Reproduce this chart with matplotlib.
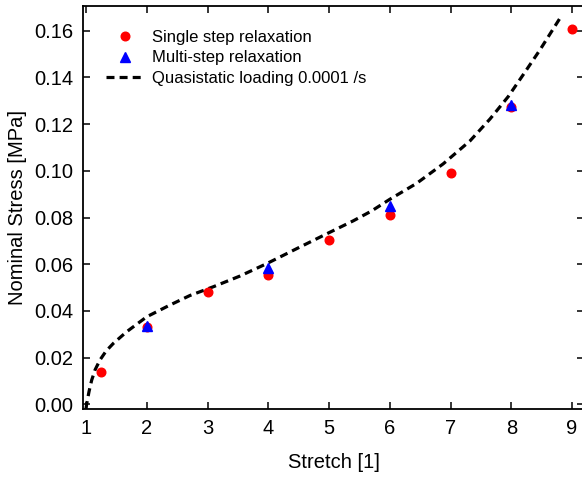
import matplotlib
matplotlib.use("Agg")
import matplotlib.pyplot as plt

plt.rcParams['font.family'] = ['Liberation Sans', 'DejaVu Sans']

# Single step relaxation
single_x = [1.25, 2, 3, 4, 5, 6, 7, 8, 9]
single_y = [0.0140, 0.0332, 0.0480, 0.0554, 0.0704, 0.0811, 0.0989, 0.1272, 0.1607]

# Multi-step relaxation
multi_x = [2, 4, 6, 8]
multi_y = [0.0335, 0.0585, 0.0851, 0.1282]

# Quasistatic loading curve
quasi_x = [1.0, 1.01, 1.05, 1.094, 1.15, 1.23, 1.33, 1.45, 1.67, 2.0, 2.38, 2.71,
           3.10, 3.53, 3.97, 4.47, 4.96, 5.40, 5.70, 6.0, 6.44, 6.88, 7.32, 7.65,
           7.95, 8.20, 8.47, 8.80]
quasi_y = [-0.002, 0.0, 0.0055, 0.0104, 0.0148, 0.0190, 0.0228, 0.0261, 0.0311, 0.0375,
           0.0425, 0.0466, 0.0504, 0.0549, 0.0602, 0.0667, 0.0730, 0.0786, 0.0828,
           0.0878, 0.0946, 0.1030, 0.1128, 0.1222, 0.1318, 0.1413, 0.1517, 0.1653]

fig = plt.figure(figsize=(5.82, 4.79), dpi=100)
ax = fig.add_axes([83 / 582, 1 - 409 / 479, 501 / 582, 403 / 479])

ax.plot(quasi_x, quasi_y, '--', color='black', lw=2.3, dashes=(2.5, 1.6),
        label='Quasistatic loading 0.0001 /s', zorder=2)
ax.plot(single_x, single_y, 'o', color='#ff0000', ms=6.2, ls='none',
        label='Single step relaxation', zorder=3)
ax.plot(multi_x, multi_y, '^', color='#0000ff', ms=6.5, ls='none',
        label='Multi-step relaxation', zorder=4)

ax.set_xlim(0.9506, 9.1975)
ax.set_ylim(-0.002, 0.1706)
ax.set_xticks(range(1, 10))
ax.set_yticks([0.00, 0.02, 0.04, 0.06, 0.08, 0.10, 0.12, 0.14, 0.16])
ax.set_yticklabels([f"{v:.2f}" for v in ax.get_yticks()])
ax.tick_params(direction='in', length=5, width=1.1, top=True, right=True,
               labelsize=14.5, pad=7)
for s in ax.spines.values():
    s.set_linewidth(1.3)

ax.set_xlabel('Stretch [1]', fontsize=14.5, labelpad=11)
ax.set_ylabel('Nominal Stress [MPa]', fontsize=14.5, labelpad=5)

handles, labels = ax.get_legend_handles_labels()
order = [1, 2, 0]
ax.legend([handles[i] for i in order], [labels[i] for i in order],
          loc='upper left', bbox_to_anchor=(0.016, 0.978), frameon=False,
          fontsize=12, handlelength=2.3, handletextpad=0.45, labelspacing=0.33)

fig.savefig('out.png', dpi=100)
